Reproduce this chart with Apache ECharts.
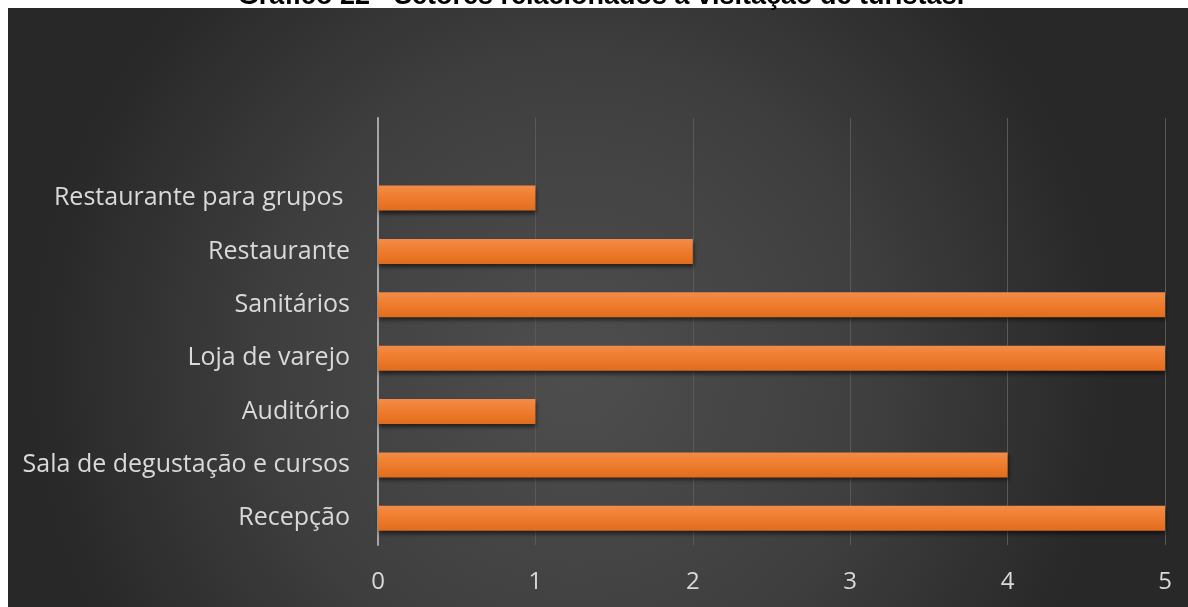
<!DOCTYPE html>
<html>
<head>
<meta charset="utf-8">
<script src="https://cdn.jsdelivr.net/npm/echarts@6/dist/echarts.min.js"></script>
<style>html,body{margin:0;padding:0;background:#fff}#c{width:1188px;height:607px}</style>
</head>
<body>
<div id="c"></div>
<script>
const titleText = 'Gráfico 22 - Setores relacionados à visitação de turistas.';
const categories = ['Recepção', 'Sala de degustação e cursos', 'Auditório', 'Loja de varejo', 'Sanitários', 'Restaurante', 'Restaurante para grupos ', ''];
const values = [5, 4, 1, 5, 5, 2, 1, null];
const xTicks = [0, 1, 2, 3, 4, 5];

const chart = echarts.init(document.getElementById('c'), null, {renderer: 'canvas'});
chart.setOption({
  backgroundColor: '#ffffff',
  animation: false,
  graphic: [
    {
      type: 'rect', z: -10, silent: true,
      shape: {x: 8, y: 8, width: 1180, height: 599},
      style: {
        fill: {
          type: 'radial', x: 0.48, y: 0.6, r: 0.9,
          colorStops: [
            {offset: 0, color: '#4e4e4e'},
            {offset: 0.55, color: '#3f3f3f'},
            {offset: 1, color: '#282828'}
          ]
        }
      }
    },
    {
      type: 'text', z: 100, silent: true,
      x: 601, y: 10,
      style: {
        text: titleText,
        fill: '#000000',
        font: 'bold 27px "Liberation Sans", Arial, sans-serif',
        textAlign: 'center',
        textVerticalAlign: 'bottom'
      }
    }
  ],
  grid: {left: 378, right: 23, top: 118, bottom: 62, containLabel: false},
  xAxis: {
    type: 'value', min: 0, max: 5, interval: 1,
    axisLine: {show: false},
    axisTick: {show: false},
    splitLine: {show: true, lineStyle: {color: '#595959', width: 1}},
    axisLabel: {
      color: '#d9d9d9', fontSize: 24, fontFamily: '"Open Sans", sans-serif',
      margin: 25,
      formatter: function (v) { return xTicks.indexOf(v) >= 0 ? String(v) : ''; }
    }
  },
  yAxis: {
    type: 'category', data: categories,
    axisLine: {show: true, lineStyle: {color: '#a6a6a6', width: 2}},
    axisTick: {show: false},
    splitLine: {show: false},
    axisLabel: {color: '#d9d9d9', fontSize: 25, fontFamily: '"Open Sans", sans-serif', margin: 28}
  },
  series: [{
    type: 'bar',
    data: values,
    barWidth: 25,
    itemStyle: {
      color: {
        type: 'linear', x: 0, y: 0, x2: 0, y2: 1,
        colorStops: [
          {offset: 0, color: '#f28c48'},
          {offset: 0.5, color: '#ef7b2c'},
          {offset: 1, color: '#e06c1d'}
        ]
      },
      shadowColor: 'rgba(0,0,0,0.55)',
      shadowBlur: 4,
      shadowOffsetY: 3,
      shadowOffsetX: 1
    }
  }]
});
</script>
</body>
</html>
